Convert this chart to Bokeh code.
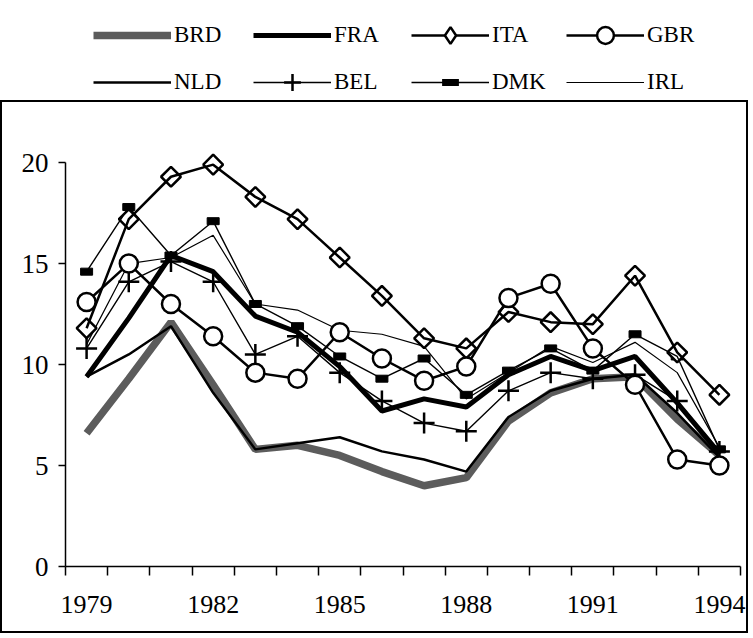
import math
from bokeh.plotting import figure
from bokeh.models import Range1d, FixedTicker, Legend, LegendItem, ColumnDataSource
from bokeh.layouts import column
from bokeh.embed import file_html
from bokeh.resources import INLINE

years = list(range(1979, 1995))
year_labels = [1979, 1982, 1985, 1988, 1991, 1994]
y_ticks = [0, 5, 10, 15, 20]

BRD = [6.6, 9.3, 12.1, 9.0, 5.8, 6.0, 5.5, 4.7, 4.0, 4.4, 7.2, 8.6, 9.3, 9.4, 7.3, 5.5]
FRA = [9.4, 12.3, 15.4, 14.6, 12.4, 11.6, 9.9, 7.7, 8.3, 7.9, 9.5, 10.4, 9.7, 10.4, 8.1, 5.6]
ITA = [11.8, 17.2, 19.3, 19.9, 18.3, 17.2, 15.3, 13.4, 11.3, 10.8, 12.6, 12.1, 12.0, 14.4, 10.6, 8.5]
GBR = [13.1, 15.0, 13.0, 11.4, 9.6, 9.3, 11.6, 10.3, 9.2, 9.9, 13.3, 14.0, 10.8, 9.0, 5.3, 5.0]
NLD = [9.4, 10.5, 11.9, 8.6, 5.8, 6.1, 6.4, 5.7, 5.3, 4.7, 7.4, 8.7, 9.3, 9.5, 7.6, 5.4]
BEL = [10.8, 14.1, 15.1, 14.1, 10.5, 11.4, 9.6, 8.2, 7.1, 6.7, 8.7, 9.6, 9.3, 9.5, 8.2, 5.7]
DMK = [14.6, 17.8, 15.4, 17.1, 13.0, 11.9, 10.4, 9.3, 10.3, 8.5, 9.7, 10.8, 9.7, 11.5, 10.4, 5.8]
IRL = [11.0, 15.0, 15.3, 16.4, 13.0, 12.7, 11.7, 11.5, 10.9, 8.3, 9.6, 10.9, 10.1, 11.1, 9.6, 5.9]

FONT = "Liberation Serif"
GREY = "#5c5c5c"

src = ColumnDataSource(dict(x=years, BRD=BRD, FRA=FRA, ITA=ITA, GBR=GBR,
                            NLD=NLD, BEL=BEL, DMK=DMK, IRL=IRL))


def add_series(fig, legend_mode=False):
    r = {}
    r["BRD"] = [fig.line("x", "BRD", source=src, line_color=GREY, line_width=7.5)]
    r["NLD"] = [fig.line("x", "NLD", source=src, line_color="black", line_width=2.5)]
    r["IRL"] = [fig.line("x", "IRL", source=src, line_color="black", line_width=1.2)]
    if legend_mode:
        dmk_mark = fig.scatter("x", "DMK", source=src, marker="dash", size=11,
                               line_color="black", line_width=7)
        ita_mark = fig.scatter("x", "ITA", source=src, marker="diamond", size=14,
                               fill_color="white", line_color="black", line_width=2.5)
    else:
        dmk_mark = fig.rect("x", "DMK", source=src, width=12, height=7, width_units="screen",
                            height_units="screen", fill_color="black", line_color="black")
        ita_mark = fig.scatter("x", "ITA", source=src, marker="square", angle=math.pi / 4,
                               size=14, fill_color="white", line_color="black", line_width=2.5)
    r["DMK"] = [fig.line("x", "DMK", source=src, line_color="black", line_width=1.4), dmk_mark]
    r["BEL"] = [fig.line("x", "BEL", source=src, line_color="black", line_width=1.4),
                fig.scatter("x", "BEL", source=src, marker="cross", size=21,
                            line_color="black", line_width=2.5)]
    r["FRA"] = [fig.line("x", "FRA", source=src, line_color="black", line_width=5)]
    r["GBR"] = [fig.line("x", "GBR", source=src, line_color="black", line_width=2.5),
                fig.scatter("x", "GBR", source=src, marker="circle", size=18, fill_color="white",
                            line_color="black", line_width=2.5)]
    r["ITA"] = [fig.line("x", "ITA", source=src, line_color="black", line_width=2.5), ita_mark]
    if legend_mode:
        for lst in r.values():
            for rr in lst:
                rr.visible = False
    return r


# ---------------- main chart ----------------
p = figure(width=748, height=533, output_backend="svg", toolbar_location=None,
           x_range=Range1d(years[0] - 0.5, years[-1] + 0.5), y_range=Range1d(0, 20.6),
           min_border_left=63, min_border_right=10, min_border_top=48, min_border_bottom=69)
p.styles = {"border": "2px solid black"}
p.outline_line_color = None
p.grid.visible = False
p.background_fill_color = "white"

add_series(p)

xa = p.xaxis[0]
xa.ticker = FixedTicker(ticks=year_labels, minor_ticks=[y + 0.5 for y in [years[0] - 1] + years])
xa.major_tick_out = 0
xa.major_tick_in = 0
xa.minor_tick_out = 9
xa.minor_tick_in = 0
xa.minor_tick_line_width = 1.5
xa.minor_tick_line_color = "black"
xa.axis_line_width = 1.5
xa.axis_line_color = "black"
xa.major_label_text_font = FONT
xa.major_label_text_font_size = "26px"
xa.major_label_text_color = "black"
xa.major_label_standoff = 20

ya = p.yaxis[0]
ya.ticker = FixedTicker(ticks=y_ticks)
ya.bounds = (0, 20)
ya.major_tick_out = 7
ya.major_tick_in = 0
ya.minor_tick_out = 0
ya.minor_tick_in = 0
ya.major_tick_line_width = 1.5
ya.axis_line_width = 1.5
ya.axis_line_color = "black"
ya.major_label_text_font = FONT
ya.major_label_text_font_size = "27px"
ya.major_label_text_color = "black"
ya.major_label_standoff = 10

# ---------------- legend strip ----------------
lg = figure(width=752, height=100, output_backend="svg", toolbar_location=None,
            x_range=Range1d(0, 1), y_range=Range1d(0, 1), min_border=0,
            x_axis_location=None, y_axis_location=None)
lg.grid.visible = False
lg.outline_line_color = None

lr = add_series(lg, legend_mode=True)
legend_cols = [["BRD", "NLD"], ["FRA", "BEL"], ["ITA", "DMK"], ["GBR", "IRL"]]
legend_x = [30, 190, 348, 503]
for keys, lx in zip(legend_cols, legend_x):
    legend = Legend(items=[LegendItem(label=k, renderers=lr[k]) for k in keys],
                    orientation="vertical", location=(lx, -3),
                    glyph_width=78, glyph_height=42, label_height=42,
                    label_standoff=3, spacing=5, padding=0, margin=0,
                    label_text_font=FONT, label_text_font_size="23px",
                    label_text_color="black", border_line_alpha=0,
                    background_fill_alpha=0)
    lg.add_layout(legend, "center")

layout = column(lg, p, spacing=0)
open("out.html", "w").write(file_html(layout, INLINE))
